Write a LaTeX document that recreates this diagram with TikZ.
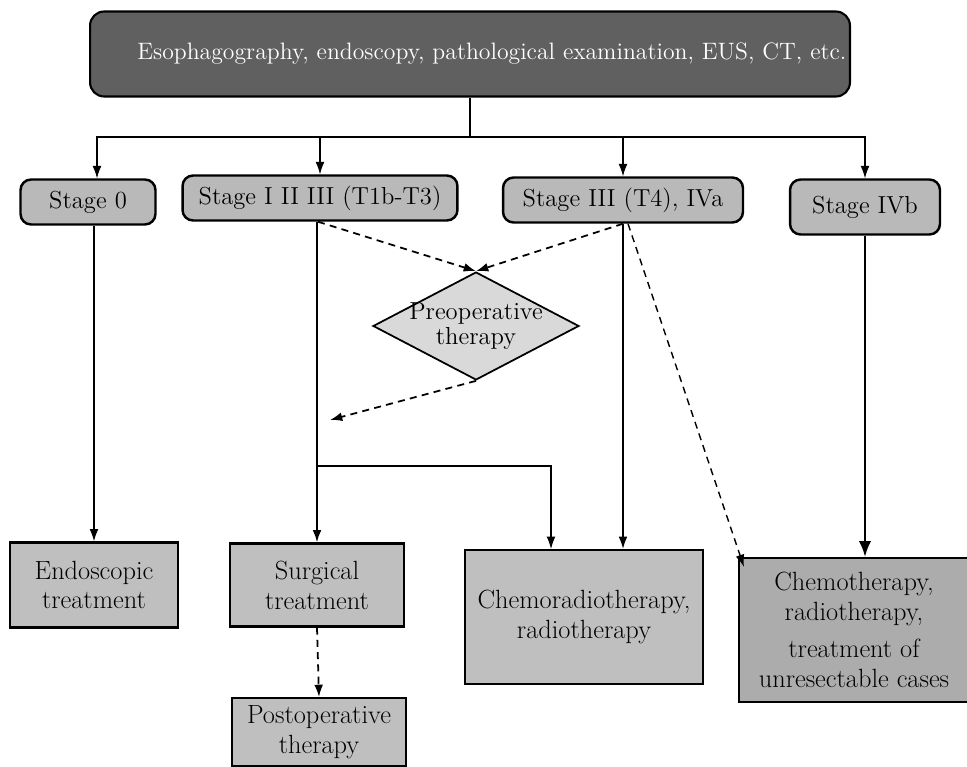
\documentclass[tikz,border=0pt]{standalone}
\usetikzlibrary{arrows.meta,shapes.geometric}
\tikzset{
  topbox/.style={draw=black,line width=1.2pt,rounded corners=8pt,fill=gray!75!black,
    text=white,font=\fontsize{13.5}{16}\selectfont,inner xsep=2pt,text width=15.06cm,
    align=right,minimum height=1.7cm},
  stagebox/.style={draw=black,line width=1.4pt,rounded corners=6pt,fill=gray!55,
    font=\fontsize{14}{16}\selectfont,minimum height=0.9cm,inner xsep=4pt},
  treatbox/.style={draw=black,line width=1.2pt,fill=gray!50,align=center,
    font=\fontsize{15}{17}\selectfont},
  prebox/.style={draw=black,line width=1pt,diamond,fill=gray!30,align=center,aspect=2,
    font=\fontsize{14}{14}\selectfont,inner sep=-7pt,minimum width=4.12cm,minimum height=2.16cm},
  arr/.style={-{Latex[length=7pt,width=5pt]},line width=0.6pt},
  boldarr/.style={-{Latex[length=9pt,width=7pt]},line width=1.3pt},
  dasharr/.style={-{Latex[length=7pt,width=5pt]},line width=1pt,dash pattern=on 4pt off 3pt}
}
\begin{document}
\begin{tikzpicture}[x=0.02cm,y=-0.02cm]
  \useasboundingbox (0,0) rectangle (967,767);
  % examination
  \node[topbox] (exam) at (470,54) {Esophagography, endoscopy, pathological examination, EUS, CT, etc.};
  % stages
  \node[stagebox,minimum width=2.7cm] (st0) at (88,202) {Stage 0};
  \node[stagebox,minimum width=5.5cm] (st13) at (320,198) {Stage I II III (T1b-T3)};
  \node[stagebox,minimum width=4.8cm] (st3) at (623,200) {Stage III (T4), IVa};
  \node[stagebox,minimum width=3cm,minimum height=1.1cm] (st4) at (865,207) {Stage IVb};
  % preoperative
  \node[prebox] (pre) at (476,326) {Preoperative\\therapy};
  % treatments
  \node[treatbox,minimum width=3.36cm,minimum height=1.7cm] (endo) at (94,585) {Endoscopic\\treatment};
  \node[treatbox,minimum width=3.48cm,minimum height=1.66cm] (surg) at (317,585) {Surgical\\treatment};
  \node[treatbox,minimum width=3.48cm,minimum height=1.36cm,anchor=north] (post) at (319,697) {Postoperative\\therapy};
  \node[treatbox,minimum width=4.76cm,minimum height=2.68cm] (chemrad) at (584,617) {Chemoradiotherapy,\\radiotherapy};
  \node[treatbox,minimum width=4.6cm,minimum height=2.88cm,fill=gray!65] (chemo) at (854,630)
    {Chemotherapy,\\radiotherapy,\\[4pt]treatment of\\unresectable cases};
  % connectors
  \coordinate (split) at (470,137);
  \draw[line width=0.6pt] (exam.south) -- (split);
  \draw[arr] (split) -| ([xshift=0.18cm]st0.north);
  \draw[arr] (split) -| (st13.north);
  \draw[arr] (split) -| (st3.north);
  \draw[arr] (split) -| (st4.north);
  \draw[arr,line width=1pt] (endo.north |- st0.south) -- (endo.north);
  \draw[arr,line width=1.1pt] (surg.north |- st13.south) -- (surg.north);
  \draw[arr] (surg.north |- 0,466) -| ([xshift=-0.66cm]chemrad.north);
  \draw[arr,line width=1pt] (st3.south) -- (st3.south |- chemrad.north);
  \draw[boldarr] (st4.south) -- (st4.south |- chemo.north);
  \draw[dasharr] ([xshift=-0.04cm]st13.south) -- (pre.north);
  \draw[dasharr] (st3.south) -- (pre.north);
  \coordinate (preout) at (330,420);
  \draw[dasharr] (pre.south) -- (preout);
  \draw[dasharr,line width=0.8pt] ([xshift=0.1cm]st3.south) -- ([xshift=0.12cm,yshift=-0.2cm]chemo.north west);
  \draw[dasharr] (surg.south) -- (post.north);
\end{tikzpicture}
\end{document}
